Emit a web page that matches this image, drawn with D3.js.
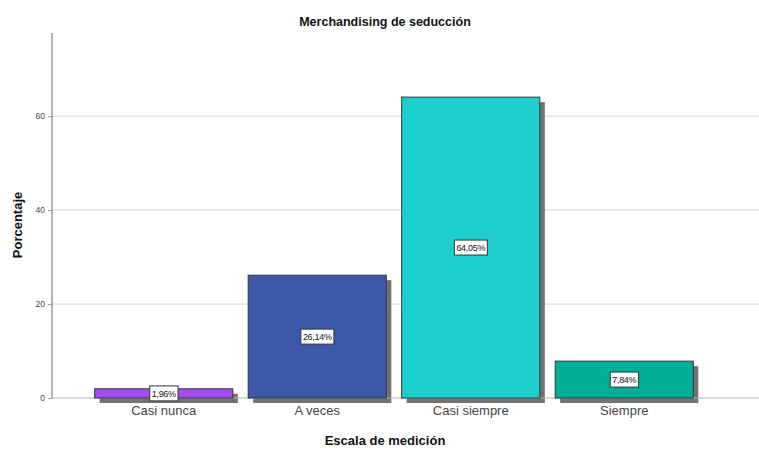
<!DOCTYPE html>
<html><head><meta charset="utf-8">
<script src="https://cdn.jsdelivr.net/npm/d3@7"></script>
<style>body{margin:0;background:#fff}svg{display:block}text{font-family:Arial,"Liberation Sans",sans-serif}</style>
</head><body>
<script>
const categories = ["Casi nunca", "A veces", "Casi siempre", "Siempre"];
const values = [1.96, 26.14, 64.05, 7.84];
const valueLabels = ["1,96%", "26,14%", "64,05%", "7,84%"];
const colors = ["#a64cf0", "#3d58a8", "#1ccfcc", "#00ae9a"];
const yTicks = [0, 20, 40, 60];

(function () {
const W = 759, H = 450;
const svg = d3.select("body").append("svg").attr("width", W).attr("height", H);
const mLeft = 52, mRight = 759, mTop = 33, mBottom = 398;

const y = d3.scaleLinear().domain([0, 77.7]).range([mBottom, mTop]);
const x = d3.scaleBand().domain(categories).range([mLeft, 736]).paddingInner(0.1).paddingOuter(0.278);

// gridlines
svg.append("g").selectAll("line").data(yTicks.filter(d => d > 0)).join("line")
  .attr("x1", mLeft).attr("x2", mRight).attr("y1", d => y(d)).attr("y2", d => y(d))
  .attr("stroke", "#d6d6d6").attr("stroke-width", 1);

// shadows
const off = 5;
svg.append("g").selectAll("rect").data(values).join("rect")
  .attr("x", (d, i) => x(categories[i]) + off)
  .attr("y", d => y(d) + off)
  .attr("width", x.bandwidth())
  .attr("height", d => mBottom - y(d))
  .attr("fill", "#727272");

// x baseline
svg.append("line").attr("x1", mLeft).attr("x2", mRight).attr("y1", mBottom).attr("y2", mBottom)
  .attr("stroke", "#b4b4b4").attr("stroke-width", 1);

// bars
svg.append("g").selectAll("rect").data(values).join("rect")
  .attr("x", (d, i) => x(categories[i]))
  .attr("y", d => y(d))
  .attr("width", x.bandwidth())
  .attr("height", d => mBottom - y(d))
  .attr("fill", (d, i) => colors[i])
  .attr("stroke", "#2b3a3a").attr("stroke-width", 1);

// y axis
const yAxis = d3.axisLeft(y).tickValues(yTicks).tickSize(4).tickPadding(3).tickFormat(d3.format("d"));
const gy = svg.append("g").attr("transform", `translate(${mLeft},0)`).call(yAxis);
gy.select(".domain").attr("stroke", "#666").attr("d", `M0,${mTop}V${mBottom}`);
gy.selectAll(".tick line").attr("stroke", "#999");
gy.selectAll(".tick text").attr("font-size", 8.5).attr("fill", "#444");

// x axis labels
const xAxis = d3.axisBottom(x).tickSize(0).tickPadding(8);
const gx = svg.append("g").attr("transform", `translate(0,${mBottom})`).call(xAxis);
gx.select(".domain").remove();
gx.selectAll(".tick text").attr("font-size", 13).attr("fill", "#444").attr("font-family", "Arial, 'Liberation Sans', sans-serif");

// value labels
const lg = svg.append("g").selectAll("g").data(values).join("g")
  .attr("transform", (d, i) => `translate(${x(categories[i]) + x.bandwidth() / 2},${(y(d) + mBottom) / 2})`);
lg.each(function (d, i) {
  const g = d3.select(this);
  const t = g.append("text").text(valueLabels[i]).attr("font-size", 9).attr("text-anchor", "middle")
    .attr("dy", "0.35em").attr("fill", "#111").attr("letter-spacing", -0.3);
  const bb = t.node().getBBox();
  g.insert("rect", "text").attr("x", bb.x - 2).attr("y", -7.5).attr("width", bb.width + 4).attr("height", 15)
    .attr("fill", "#fff").attr("stroke", "#333").attr("stroke-width", 1);
});

// titles
svg.append("text").attr("x", 385).attr("y", 26).attr("text-anchor", "middle")
  .attr("font-size", 12.5).attr("font-weight", "bold").attr("fill", "#111").text("Merchandising de seducción");
svg.append("text").attr("x", 385).attr("y", 445).attr("text-anchor", "middle")
  .attr("font-size", 13).attr("font-weight", "bold").attr("fill", "#111").text("Escala de medición");
svg.append("text").attr("transform", "translate(22,225) rotate(-90)").attr("text-anchor", "middle")
  .attr("font-size", 13).attr("font-weight", "bold").attr("fill", "#111").text("Porcentaje");
})();
</script>
</body></html>
